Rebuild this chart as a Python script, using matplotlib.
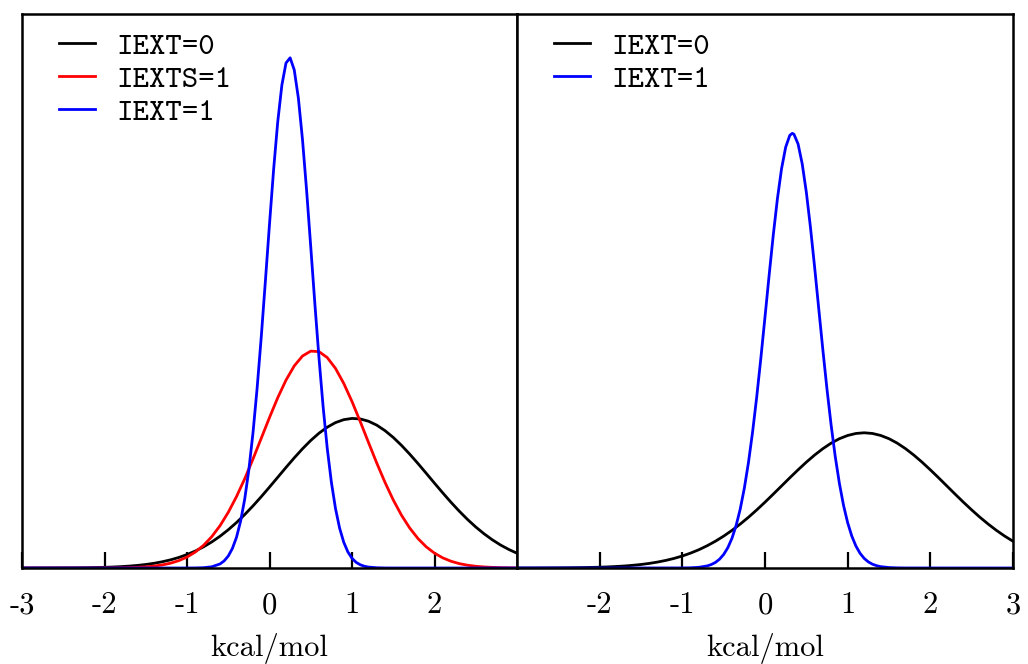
import matplotlib
matplotlib.use("Agg")
import matplotlib.pyplot as plt

# distribution curves (density vs kcal/mol)
x_wide = [-3.0, -2.9, -2.8, -2.7, -2.6, -2.5, -2.4, -2.3, -2.2, -2.1,
          -2.0, -1.9, -1.8, -1.7, -1.6, -1.5, -1.4, -1.3, -1.2, -1.1,
          -1.0, -0.9, -0.8, -0.7, -0.6, -0.5, -0.4, -0.3, -0.2, -0.1,
          0.0, 0.1, 0.2, 0.3, 0.4, 0.5, 0.6, 0.7, 0.8, 0.9,
          1.0, 1.1, 1.2, 1.3, 1.4, 1.5, 1.6, 1.7, 1.8, 1.9,
          2.0, 2.1, 2.2, 2.3, 2.4, 2.5, 2.6, 2.7, 2.8, 2.9, 3.0]

left_iext0 = [0.0000, 0.0000, 0.0001, 0.0001, 0.0002, 0.0003, 0.0004, 0.0006, 0.0009, 0.0014,
              0.0020, 0.0028, 0.0040, 0.0055, 0.0075, 0.0102, 0.0136, 0.0181, 0.0236, 0.0305,
              0.0390, 0.0491, 0.0613, 0.0755, 0.0920, 0.1108, 0.1318, 0.1550, 0.1801, 0.2067,
              0.2346, 0.2630, 0.2915, 0.3193, 0.3456, 0.3697, 0.3908, 0.4082, 0.4215, 0.4300,
              0.4336, 0.4321, 0.4255, 0.4141, 0.3982, 0.3785, 0.3555, 0.3300, 0.3028, 0.2745,
              0.2459, 0.2178, 0.1905, 0.1648, 0.1408, 0.1189, 0.0993, 0.0819, 0.0667, 0.0538, 0.0428]

left_iexts1 = [0.0, 0.0, 0.0, 0.0, 0.0, 0.0, 0.0, 0.0, 0.0, 0.0001,
               0.0002, 0.0003, 0.0006, 0.0011, 0.0020, 0.0033, 0.0055, 0.0089, 0.0139, 0.0213,
               0.0317, 0.0462, 0.0656, 0.0908, 0.1225, 0.1613, 0.2070, 0.2590, 0.3161, 0.3761,
               0.4363, 0.4937, 0.5446, 0.5859, 0.6146, 0.6287, 0.6272, 0.6100, 0.5786, 0.5351,
               0.4826, 0.4244, 0.3639, 0.3043, 0.2482, 0.1973, 0.1530, 0.1157, 0.0853, 0.0613,
               0.0430, 0.0294, 0.0196, 0.0127, 0.0081, 0.0050, 0.0030, 0.0018, 0.0010, 0.0006, 0.0003]

right_iext0 = [0.0001, 0.0001, 0.0001, 0.0002, 0.0003, 0.0004, 0.0006, 0.0009, 0.0012, 0.0017,
               0.0023, 0.0032, 0.0044, 0.0058, 0.0078, 0.0102, 0.0133, 0.0172, 0.0220, 0.0278,
               0.0348, 0.0432, 0.0530, 0.0645, 0.0776, 0.0924, 0.1090, 0.1273, 0.1471, 0.1684,
               0.1908, 0.2141, 0.2378, 0.2615, 0.2846, 0.3068, 0.3274, 0.3459, 0.3619, 0.3748,
               0.3842, 0.3900, 0.3920, 0.3900, 0.3842, 0.3748, 0.3619, 0.3459, 0.3274, 0.3068,
               0.2846, 0.2615, 0.2378, 0.2141, 0.1908, 0.1684, 0.1471, 0.1273, 0.1090, 0.0924, 0.0776]

x_left_blue = [-3.0, -1.0, -0.9, -0.8, -0.7, -0.6, -0.55, -0.5, -0.45, -0.4, -0.35, -0.3, -0.25,
               -0.2, -0.15, -0.1, -0.05, 0.0, 0.05, 0.1, 0.15, 0.2, 0.25, 0.3, 0.35, 0.4, 0.45,
               0.5, 0.55, 0.6, 0.65, 0.7, 0.75, 0.8, 0.85, 0.9, 0.95, 1.0, 1.05, 1.1, 1.15,
               1.2, 1.3, 1.4, 1.5, 3.0]
left_iext1 = [0.0, 0.0, 0.0002, 0.0009, 0.0035, 0.0117, 0.0205, 0.0346, 0.0565, 0.0891, 0.1360, 0.2003, 0.2852,
              0.3922, 0.5214, 0.6697, 0.8313, 0.9969, 1.1554, 1.2938, 1.3999, 1.4639, 1.4790, 1.4439, 1.3622, 1.2417, 1.0937,
              0.9309, 0.7656, 0.6084, 0.4673, 0.3467, 0.2486, 0.1723, 0.1153, 0.0746, 0.0466, 0.0282, 0.0164, 0.0093, 0.0051,
              0.0027, 0.0007, 0.0001, 0.0, 0.0]

x_right_blue = [-3.0, -1.0, -0.9, -0.8, -0.7, -0.65, -0.6, -0.55, -0.5, -0.45, -0.4, -0.35, -0.3, -0.25,
                -0.2, -0.15, -0.1, -0.05, 0.0, 0.05, 0.1, 0.15, 0.2, 0.25, 0.3, 0.33, 0.35, 0.4, 0.45,
                0.5, 0.55, 0.6, 0.65, 0.7, 0.75, 0.8, 0.85, 0.9, 0.95, 1.0, 1.05, 1.1, 1.15,
                1.2, 1.25, 1.3, 1.35, 1.4, 1.5, 1.6, 1.7, 3.0]
right_iext1 = [0.0, 0.0002, 0.0006, 0.0020, 0.0060, 0.0100, 0.0161, 0.0255, 0.0392, 0.0587, 0.0859, 0.1226, 0.1705, 0.2313,
               0.3059, 0.3946, 0.4963, 0.6087, 0.7278, 0.8487, 0.9652, 1.0701, 1.1572, 1.2199, 1.2543, 1.2600, 1.2575, 1.2293, 1.1718,
               1.0893, 0.9873, 0.8727, 0.7521, 0.6321, 0.5180, 0.4140, 0.3226, 0.2451, 0.1816, 0.1312, 0.0925, 0.0635, 0.0426,
               0.0278, 0.0177, 0.0110, 0.0067, 0.0039, 0.0013, 0.0004, 0.0001, 0.0]

left_ticks = [-3, -2, -1, 0, 1, 2]
left_ticklabels = ["-3", "-2", "-1", "0", "1", "2"]
right_ticks = [-2, -1, 0, 1, 2, 3]
right_ticklabels = ["-2", "-1", "0", "1", "2", "3"]

fig = plt.figure(figsize=(10.28, 6.64), dpi=100)
ax1 = fig.add_axes([22 / 1028, 96 / 664, 495 / 1028, 554 / 664])
ax2 = fig.add_axes([517 / 1028, 96 / 664, 496 / 1028, 554 / 664])

lw = 2.0
ax1.plot(x_wide, left_iext0, color="black", lw=lw, label="IEXT=0")
ax1.plot(x_wide, left_iexts1, color="red", lw=lw, label="IEXTS=1")
ax1.plot(x_left_blue, left_iext1, color="blue", lw=lw, label="IEXT=1")

ax2.plot(x_wide, right_iext0, color="black", lw=lw, label="IEXT=0")
ax2.plot(x_right_blue, right_iext1, color="blue", lw=lw, label="IEXT=1")

for ax, ticks, labels in [(ax1, left_ticks, left_ticklabels), (ax2, right_ticks, right_ticklabels)]:
    ax.set_xlim(-3, 3)
    ax.set_ylim(0, 1.606)
    ax.set_yticks([])
    ax.set_xticks(ticks)
    ax.set_xticklabels(labels, family="cmr10", fontsize=22)
    ax.tick_params(axis="x", direction="in", length=11.5, width=1.6, pad=17)
    for sp in ax.spines.values():
        sp.set_linewidth(1.8)
    ax.set_xlabel("kcal/mol", family="cmr10", fontsize=22, labelpad=10)
    ax.legend(loc="upper left", frameon=False, prop={"family": "cmtt10", "size": 22.5},
              handlelength=1.15, handletextpad=0.7, labelspacing=0.13,
              borderaxespad=0, borderpad=0,
              bbox_to_anchor=(37 / 495, 1 - 18 / 554))

fig.savefig("out.png", dpi=100)
